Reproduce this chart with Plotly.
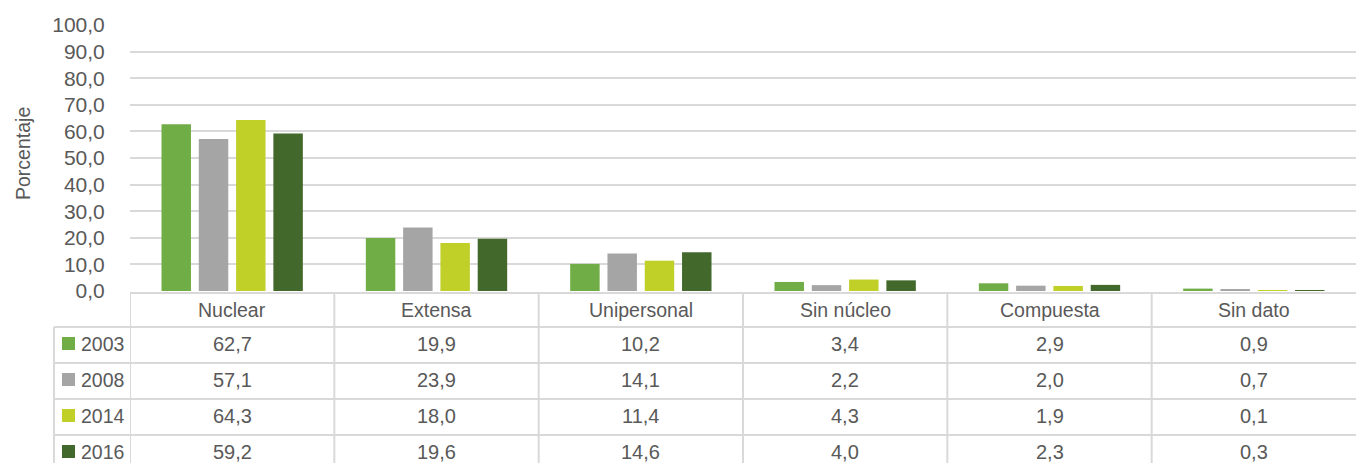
import plotly.graph_objects as go

# Household structure by type and survey year (percent)
categories = ["Nuclear", "Extensa", "Unipersonal", "Sin núcleo", "Compuesta", "Sin dato"]
years = ["2003", "2008", "2014", "2016"]
values_2003 = [62.7, 19.9, 10.2, 3.4, 2.9, 0.9]
values_2008 = [57.1, 23.9, 14.1, 2.2, 2.0, 0.7]
values_2014 = [64.3, 18.0, 11.4, 4.3, 1.9, 0.1]
values_2016 = [59.2, 19.6, 14.6, 4.0, 2.3, 0.3]
series = [values_2003, values_2008, values_2014, values_2016]
colors = ["#70AD47", "#A5A5A5", "#C0D028", "#43682B"]
y_ticks = [0, 10, 20, 30, 40, 50, 60, 70, 80, 90, 100]

W, H = 1356, 463
FONT = "Liberation Sans, Arial, sans-serif"
TEXT = "#595959"
LINE = "#D9D9D9"


def px(x):
    return x / W


def py(y):
    return 1 - y / H


def fmt(v):
    return f"{v:.1f}".replace(".", ",")


fig = go.Figure()
for year, vals, col in zip(years, series, colors):
    fig.add_trace(go.Bar(x=categories, y=vals, name=year, marker_color=col,
                         marker_line_width=0, showlegend=False))

shapes = []
annotations = []

# table grid: header row under the bars, then one row per year
header_top, row_tops = 293, [327, 363, 399, 435]
shapes.append(dict(type="line", xref="paper", yref="paper",
                   x0=px(130), x1=1, y0=py(header_top), y1=py(header_top),
                   line=dict(color=LINE, width=2)))
for t in row_tops:
    shapes.append(dict(type="line", xref="paper", yref="paper",
                       x0=px(54), x1=1, y0=py(t), y1=py(t),
                       line=dict(color=LINE, width=2)))
shapes.append(dict(type="line", xref="paper", yref="paper",
                   x0=px(54), x1=px(54), y0=py(row_tops[0]), y1=0,
                   line=dict(color=LINE, width=2)))
for i in range(len(categories)):
    shapes.append(dict(type="line", xref="x", yref="paper",
                       x0=i - 0.5, x1=i - 0.5, y0=py(header_top), y1=0,
                       line=dict(color=LINE, width=2)))

# header labels
for cat in categories:
    annotations.append(dict(x=cat, xref="x", y=py(309.5), yref="paper", text=cat,
                            showarrow=False, font=dict(size=19.5, color=TEXT, family=FONT),
                            xanchor="center", yanchor="middle"))

# rows: legend key + values
for r, (year, vals, col) in enumerate(zip(years, series, colors)):
    cy = row_tops[r] + 16.5
    shapes.append(dict(type="rect", xref="paper", yref="paper",
                       x0=px(62), x1=px(75), y0=py(cy - 6.5), y1=py(cy + 6.5),
                       fillcolor=col, line=dict(width=0)))
    annotations.append(dict(x=px(79), xref="paper", y=py(cy), yref="paper", text=year,
                            showarrow=False, font=dict(size=19.5, color=TEXT, family=FONT),
                            xanchor="left", yanchor="middle"))
    for cat, v in zip(categories, vals):
        annotations.append(dict(x=cat, xref="x", y=py(cy), yref="paper", text=fmt(v),
                                showarrow=False, font=dict(size=20, color=TEXT, family=FONT),
                                xanchor="center", yanchor="middle"))

# y-axis title
annotations.append(dict(x=px(23), xref="paper", y=py(154), yref="paper", text="Porcentaje",
                        textangle=-90, showarrow=False,
                        font=dict(size=19.5, color=TEXT, family=FONT),
                        xanchor="center", yanchor="middle"))

fig.update_layout(
    width=W, height=H,
    margin=dict(l=0, r=0, t=0, b=0),
    paper_bgcolor="white", plot_bgcolor="white",
    barmode="group", bargap=0.27, bargroupgap=0.21,
    font=dict(family=FONT, color=TEXT),
    xaxis=dict(domain=[px(130), 1], range=[-0.5, 5.5], showticklabels=False,
               showgrid=False, zeroline=False, showline=False, fixedrange=True),
    yaxis=dict(domain=[py(291), py(25)], range=[0, 100], tickvals=y_ticks,
               ticktext=[fmt(v) for v in y_ticks],
               tickfont=dict(size=21, color=TEXT, family=FONT),
               ticks="outside", ticklen=20, tickcolor="rgba(0,0,0,0)",
               showgrid=True, gridcolor=LINE, gridwidth=2, zeroline=False,
               showline=False, automargin=False, fixedrange=True),
    shapes=shapes, annotations=annotations,
)

fig.write_html("out.html")
